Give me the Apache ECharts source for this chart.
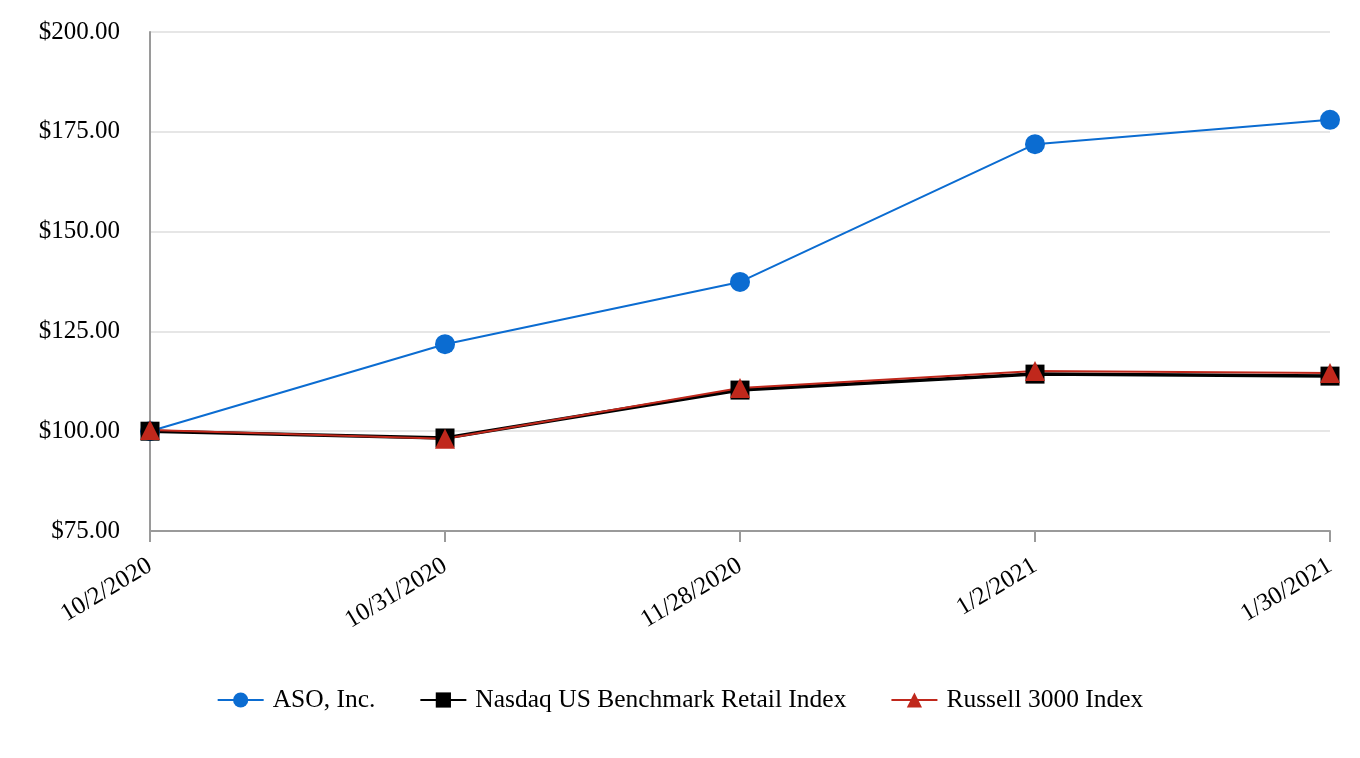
<!DOCTYPE html>
<html><head><meta charset="utf-8">
<script src="https://cdn.jsdelivr.net/npm/echarts@6/dist/echarts.min.js"></script>
<style>html,body{margin:0;padding:0;background:#fff}#c{width:1360px;height:758px}</style>
</head><body><div id="c"></div>
<script>
var categories = ["10/2/2020","10/31/2020","11/28/2020","1/2/2021","1/30/2021"];
var aso = [100.00, 121.8, 137.4, 171.9, 178.0];
var nasdaq = [100.00, 98.3, 110.3, 114.3, 113.8];
var russell = [100.3, 98.1, 110.8, 115.1, 114.6];
var yTicks = [75, 100, 125, 150, 175, 200];

var font = "Liberation Serif";
var chart = echarts.init(document.getElementById('c'));
chart.setOption({
  animation:false,
  textStyle:{fontFamily:font},
  grid:{left:150,right:30,top:32,bottom:227,containLabel:false},
  legend:{
    top:682,left:'center',itemGap:44,itemWidth:46,itemHeight:19,
    textStyle:{fontFamily:font,fontSize:25.5,color:'#000',padding:[0,0,0,4]},
    data:['ASO, Inc.','Nasdaq US Benchmark Retail Index','Russell 3000 Index']
  },
  xAxis:{
    type:'category',data:categories,boundaryGap:false,
    axisLine:{lineStyle:{color:'#9a9a9a',width:2}},
    axisTick:{show:true,length:11,lineStyle:{color:'#9a9a9a',width:2}},
    axisLabel:{rotate:31,fontFamily:font,fontSize:25,color:'#000',margin:33}
  },
  yAxis:{
    type:'value',min:yTicks[0],max:yTicks[yTicks.length-1],interval:25,
    axisLine:{show:true,lineStyle:{color:'#9a9a9a',width:2}},
    axisTick:{show:false},
    splitLine:{lineStyle:{color:'#e6e6e6',width:2}},
    axisLabel:{fontFamily:font,fontSize:25,color:'#000',margin:30,
      formatter:function(v){return '$'+v.toFixed(2);}}
  },
  series:[
    {name:'ASO, Inc.',type:'line',data:aso,symbol:'circle',symbolSize:20,
      itemStyle:{color:'#0b6cd1'},lineStyle:{color:'#0b6cd1',width:2}},
    {name:'Nasdaq US Benchmark Retail Index',type:'line',data:nasdaq,symbol:'rect',symbolSize:19,
      itemStyle:{color:'#000'},lineStyle:{color:'#000',width:3.5}},
    {name:'Russell 3000 Index',type:'line',data:russell,symbol:'triangle',symbolSize:20,
      itemStyle:{color:'#c0281c'},lineStyle:{color:'#c0281c',width:2}}
  ]
});
</script></body></html>
